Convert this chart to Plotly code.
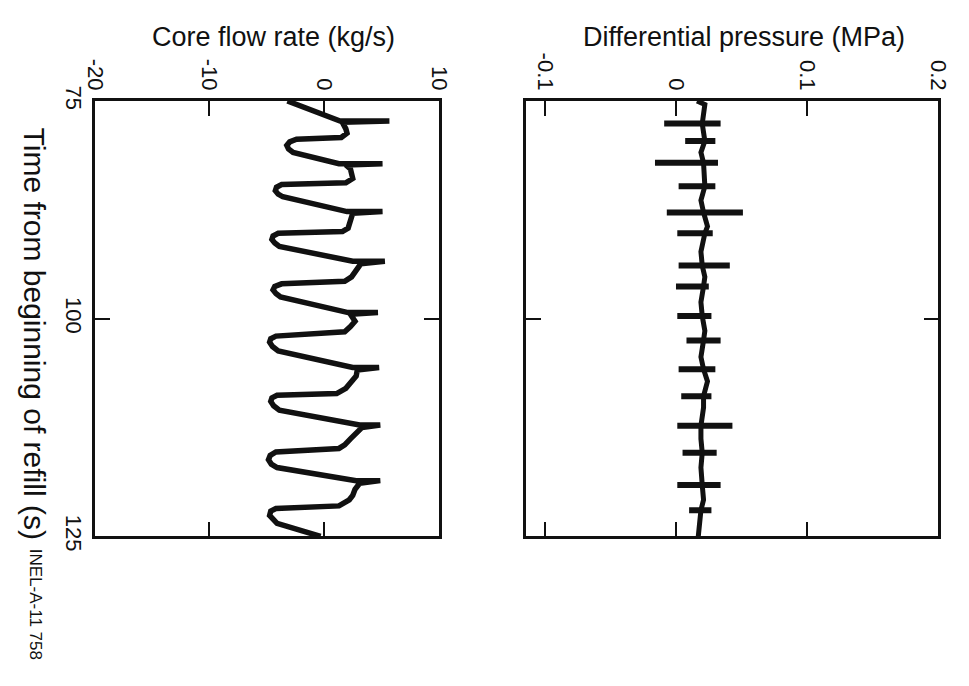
import plotly.graph_objects as go

# Core flow rate trace (kg/s) against time from beginning of refill (s)
flow_time = [75.0, 77.3, 77.3, 77.45, 78.2, 78.7, 79.2,
             79.4, 79.7, 80.1, 80.5, 80.9,
             82.2, 82.2, 82.35, 82.8, 83.9, 84.4,
             84.6, 84.9, 85.3, 85.7, 86.0,
             87.7, 87.7, 87.9, 89.0, 89.6, 90.0,
             90.2, 90.5, 90.9, 91.3, 91.7,
             93.4, 93.4, 93.7, 94.5, 95.2, 95.7,
             96.0, 96.3, 96.7, 97.1, 97.5,
             99.3, 99.3, 99.5, 100.3, 100.9, 101.5,
             102.0, 102.3, 102.7, 103.2, 103.7,
             105.6, 105.6, 105.9, 106.6, 107.5, 108.0, 108.6,
             108.8, 109.1, 109.5, 110.0, 110.5,
             112.2, 112.2, 112.5, 113.2, 113.8, 114.5, 114.9,
             115.3, 115.7, 116.2, 116.7, 117.1,
             118.6, 118.6, 118.9, 119.6, 120.3, 120.8, 121.5,
             121.8, 122.1, 122.6, 123.0, 123.5, 125.0]
flow_rate = [-3.2, 1.4, 5.7, 1.6, 1.9, 2.0, 1.5,
             -2.4, -3.0, -3.25, -3.1, -2.7,
             1.3, 5.1, 1.9, 2.3, 2.5, 1.9,
             -3.7, -4.15, -4.25, -4.0, -3.6,
             2.0, 5.1, 2.5, 2.3, 2.1, 1.6,
             -4.0, -4.45, -4.55, -4.3, -3.9,
             2.5, 5.3, 3.2, 2.7, 2.4, 1.8,
             -3.7, -4.3, -4.45, -4.2, -3.8,
             2.1, 4.7, 2.3, 2.7, 2.3, 1.8,
             -4.2, -4.65, -4.75, -4.5, -4.0,
             2.5, 4.8, 2.9, 2.8, 2.2, 1.9, 1.1,
             -4.1, -4.55, -4.65, -4.4, -3.9,
             3.1, 4.9, 3.3, 2.7, 2.3, 1.8, 1.3,
             -4.2, -4.7, -4.85, -4.6, -4.1,
             2.8, 4.9, 3.1, 2.7, 2.5, 2.2, 1.3,
             -4.2, -4.65, -4.75, -4.5, -4.1, -0.3]

# Differential pressure (MPa): slowly varying base trace
dp_time = [75.0, 75.4, 77.6, 79.6, 80.9, 82.1, 84.8, 86.4, 87.8, 89.4, 90.2,
           92.3, 93.9, 95.2, 96.3, 98.1, 99.7, 101.4, 102.5, 104.4, 105.8,
           107.2, 108.9, 110.2, 112.3, 113.8, 115.4, 117.1, 119.1, 120.8,
           122.0, 123.7, 125.0]
dp_value = [0.016, 0.022, 0.020, 0.022, 0.019, 0.021, 0.022, 0.019, 0.021, 0.024, 0.022,
            0.019, 0.020, 0.022, 0.021, 0.019, 0.020, 0.022, 0.021, 0.019, 0.021,
            0.024, 0.021, 0.021, 0.019, 0.019, 0.020, 0.019, 0.020, 0.021,
            0.019, 0.018, 0.017]

# Differential pressure excursions: time and min / max of each swing (MPa)
swing_time = [77.6, 79.6, 82.1, 84.8, 87.8, 90.2, 93.9, 96.3,
              99.7, 102.5, 105.8, 108.9, 112.3, 115.4, 119.1, 122.0]
swing_low = [-0.009, 0.007, -0.016, 0.002, -0.007, 0.001, 0.002, 0.000,
             0.001, 0.008, 0.002, 0.004, 0.001, 0.005, 0.001, 0.010]
swing_high = [0.034, 0.030, 0.032, 0.030, 0.051, 0.028, 0.041, 0.025,
              0.027, 0.034, 0.030, 0.027, 0.043, 0.031, 0.034, 0.027]

flow_ticks = [-20, -10, 0, 10]
flow_tick_text = ["-20", "-10", "0", "10"]
dp_ticks = [-0.1, 0, 0.1, 0.2]
dp_tick_text = ["-0.1", "0", "0.1", "0.2"]
time_ticks = [75, 100, 125]
time_tick_text = ["75", "100", "125"]

W, H = 969, 686


def fx(px):
    return px / W


def fy(py):
    return 1 - py / H


FONT = "Liberation Sans, Arial, Helvetica, sans-serif"
INK = "#111111"

swing_x, swing_y = [], []
for t, lo, hi in zip(swing_time, swing_low, swing_high):
    swing_x += [lo, hi, None]
    swing_y += [t, t, None]

fig = go.Figure()
fig.add_trace(go.Scatter(x=flow_rate, y=flow_time, mode="lines",
                         line=dict(color=INK, width=5.5), xaxis="x", yaxis="y",
                         showlegend=False, hoverinfo="skip"))
fig.add_trace(go.Scatter(x=dp_value, y=dp_time, mode="lines",
                         line=dict(color=INK, width=5), xaxis="x2", yaxis="y2",
                         showlegend=False, hoverinfo="skip"))
fig.add_trace(go.Scatter(x=swing_x, y=swing_y, mode="lines",
                         line=dict(color=INK, width=6), xaxis="x2", yaxis="y2",
                         showlegend=False, hoverinfo="skip", connectgaps=False))

y_dom = [fy(545), fy(89)]
common_x = dict(side="top", showgrid=False, zeroline=False, showline=True,
                linecolor=INK, linewidth=2.5, mirror="ticks", ticks="inside",
                ticklen=15, tickwidth=2, tickcolor=INK, tickangle=90,
                tickfont=dict(family=FONT, size=22, color=INK))
common_y = dict(range=[125, 75], showgrid=False, zeroline=False, showline=True,
                linecolor=INK, linewidth=2.5, mirror="ticks", ticks="inside",
                ticklen=15, tickwidth=2, tickcolor=INK, tickvals=time_ticks,
                ticktext=time_tick_text, tickangle=90,
                tickfont=dict(family=FONT, size=22, color=INK))

fig.update_layout(
    width=W, height=H,
    margin=dict(l=0, r=0, t=0, b=0),
    paper_bgcolor="white", plot_bgcolor="white",
    xaxis=dict(domain=[fx(85), fx(438)], range=[-20, 10], tickvals=flow_ticks,
               ticktext=flow_tick_text, anchor="y", **common_x),
    xaxis2=dict(domain=[fx(528), fx(951)], range=[-0.114, 0.2], tickvals=dp_ticks,
                ticktext=dp_tick_text, anchor="y2", **common_x),
    yaxis=dict(domain=y_dom, anchor="x", showticklabels=True, **common_y),
    yaxis2=dict(domain=y_dom, anchor="x2", matches="y", showticklabels=False,
                **common_y),
    annotations=[
        dict(text="Core flow rate (kg/s)", x=fx(268), y=fy(22), xref="paper",
             yref="paper", xanchor="center", yanchor="middle", showarrow=False,
             font=dict(family=FONT, size=27, color=INK)),
        dict(text="Differential pressure (MPa)", x=fx(751), y=fy(22),
             xref="paper", yref="paper", xanchor="center", yanchor="middle",
             showarrow=False, font=dict(family=FONT, size=27, color=INK)),
        dict(text="Time from beginning of refill (s)", x=fx(23), y=fy(333),
             xref="paper", yref="paper", xanchor="center", yanchor="middle",
             showarrow=False, textangle=90,
             font=dict(family=FONT, size=30, color=INK)),
        dict(text="INEL-A-11 758", x=fx(24), y=fy(616), xref="paper",
             yref="paper", xanchor="center", yanchor="middle", showarrow=False,
             textangle=90, font=dict(family=FONT, size=17, color=INK)),
    ],
)

# Drop the default page margin so the figure sits at the top-left corner
fig.write_html("out.html", post_script="document.body.style.margin = '0';")
